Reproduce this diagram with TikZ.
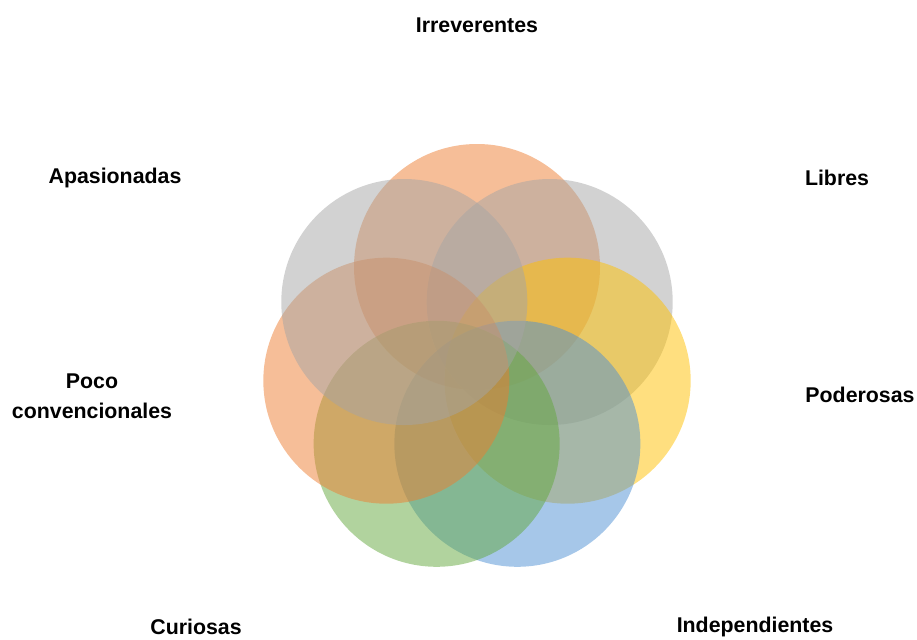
\documentclass[tikz,border=0pt]{standalone}
\usepackage{fontspec}
\setmainfont{Liberation Sans}
\usetikzlibrary{calc}
\definecolor{naranja}{HTML}{ED7D31}
\definecolor{gris}{HTML}{A5A5A5}
\definecolor{oro}{HTML}{FFC000}
\definecolor{azul}{HTML}{4E90D3}
\definecolor{verde}{HTML}{64A83E}
\tikzset{rasgo/.style={font=\bfseries\fontsize{16}{22.5}\selectfont, align=center, inner sep=0pt}}

\begin{document}
\begin{tikzpicture}[x=0.75pt, y=-0.75pt]
\useasboundingbox (0,0) rectangle (917,639);
\coordinate (centro) at (477,360);
% siete circulos, en sentido horario desde arriba
\foreach \k/\col in {0/naranja,1/gris,2/oro,3/azul,4/verde,5/naranja,6/gris} {
 \pgfmathsetmacro{\ang}{90-\k*360/7}
 \fill[\col, fill opacity=.5] ($(centro)+({93*cos(\ang)},{-93*sin(\ang)})$) circle[radius=92.25pt];
}
\node[rasgo] (irreverentes) at (477,25) {Irreverentes};
\node[rasgo] (libres) at (837,178) {Libres};
\node[rasgo] (poderosas) at (860,395) {Poderosas};
\node[rasgo] (independientes) at (755,627) {Independientes};
\node[rasgo] (curiosas) at (196,627) {Curiosas};
\node[rasgo] (poco) at (92,396) {Poco\\convencionales};
\node[rasgo] (apasionadas) at (115,178) {Apasionadas};
\end{tikzpicture}
\end{document}
